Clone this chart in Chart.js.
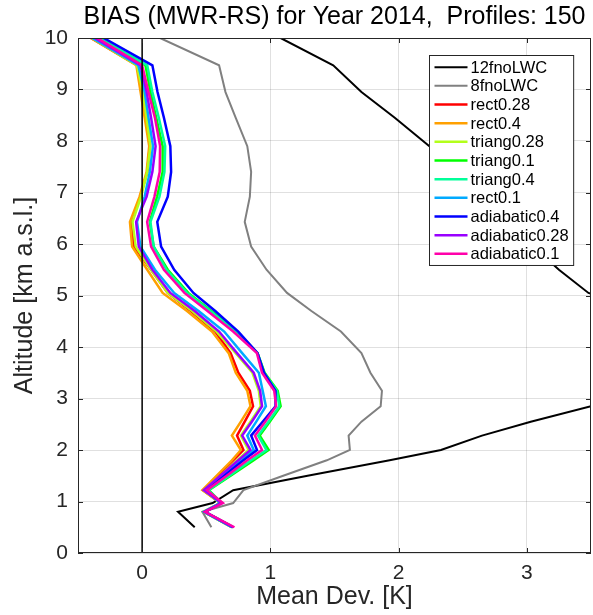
<!DOCTYPE html>
<html>
<head>
<meta charset="utf-8">
<script src="https://cdn.jsdelivr.net/npm/chart.js@4.4.1/dist/chart.umd.min.js"></script>
<style>
  body { margin: 0; background: #fff; }
</style>
</head>
<body>
<canvas id="bias-chart" width="593" height="615"></canvas>
<script>
// altitude levels [km a.s.l.]
const altitude = [0.5, 0.8, 0.97, 1.22, 1.5, 1.8, 2.0, 2.28, 2.55, 2.85, 3.15, 3.5, 3.88, 4.3, 4.7, 5.05, 5.5, 5.95, 6.43, 6.92, 7.4, 7.9, 8.45, 8.95, 9.47, 10];

// mean deviation [K] per retrieval
const fnoLWC12 = [0.41, 0.28, 0.55, 0.71, 1.29, 1.93, 2.33, 2.65, 3.03, 3.5, 3.9, 4.2, 4.4, 4.4, 4.0, 3.48, 3.25, 3.05, 2.85, 2.65, 2.45, 2.24, 1.97, 1.71, 1.49, 1.08];
const fnoLWC8 = [0.54, 0.47, 0.71, 0.79, 1.10, 1.44, 1.62, 1.61, 1.71, 1.86, 1.87, 1.78, 1.71, 1.55, 1.32, 1.13, 0.97, 0.85, 0.80, 0.84, 0.85, 0.82, 0.73, 0.65, 0.60, 0.14];
const rect028 = [0.70, 0.48, 0.61, 0.475, 0.59, 0.71, 0.79, 0.74, 0.80, 0.865, 0.84, 0.75, 0.69, 0.57, 0.38, 0.20, 0.07, -0.065, -0.085, -0.015, 0.04, 0.06, 0.03, 0.0, -0.04, -0.40];
const rect04 = [0.70, 0.48, 0.61, 0.47, 0.58, 0.70, 0.77, 0.70, 0.77, 0.845, 0.82, 0.73, 0.675, 0.545, 0.35, 0.16, 0.04, -0.078, -0.095, -0.02, 0.035, 0.055, 0.02, -0.012, -0.045, -0.40];
const triang028 = [0.70, 0.48, 0.61, 0.48, 0.61, 0.74, 0.83, 0.77, 0.845, 0.925, 0.91, 0.86, 0.73, 0.58, 0.39, 0.20, 0.07, -0.05, -0.075, -0.008, 0.04, 0.065, 0.035, 0.005, -0.04, -0.39];
const triang01 = [0.71, 0.49, 0.62, 0.52, 0.69, 0.87, 0.987, 0.917, 0.995, 1.08, 1.057, 0.955, 0.90, 0.74, 0.54, 0.36, 0.20, 0.09, 0.06, 0.117, 0.16, 0.16, 0.11, 0.065, 0.026, -0.34];
const triang04 = [0.71, 0.49, 0.62, 0.515, 0.68, 0.85, 0.97, 0.905, 0.985, 1.07, 1.05, 0.95, 0.90, 0.73, 0.53, 0.35, 0.19, 0.09, 0.065, 0.135, 0.174, 0.18, 0.13, 0.08, 0.04, -0.33];
const rect01 = [0.70, 0.48, 0.61, 0.49, 0.63, 0.77, 0.87, 0.82, 0.89, 0.965, 0.94, 0.91, 0.78, 0.64, 0.44, 0.25, 0.10, -0.013, -0.04, 0.02, 0.06, 0.085, 0.05, 0.02, -0.03, -0.39];
const adiabatic04 = [0.71, 0.49, 0.62, 0.50, 0.64, 0.79, 0.896, 0.85, 0.94, 1.04, 1.04, 0.95, 0.90, 0.75, 0.57, 0.40, 0.25, 0.148, 0.118, 0.20, 0.226, 0.22, 0.17, 0.12, 0.08, -0.30];
const adiabatic028 = [0.71, 0.49, 0.62, 0.48, 0.61, 0.75, 0.845, 0.78, 0.855, 0.935, 0.92, 0.87, 0.74, 0.60, 0.41, 0.22, 0.08, -0.026, -0.047, 0.035, 0.08, 0.105, 0.07, 0.035, -0.013, -0.37];
const adiabatic01 = [0.72, 0.49, 0.63, 0.505, 0.66, 0.82, 0.935, 0.88, 0.96, 1.045, 1.03, 0.935, 0.895, 0.71, 0.51, 0.33, 0.17, 0.07, 0.039, 0.096, 0.137, 0.14, 0.10, 0.05, 0.0, -0.35];

const seriesNames = ['12fnoLWC', '8fnoLWC', 'rect0.28', 'rect0.4', 'triang0.28', 'triang0.1', 'triang0.4', 'rect0.1', 'adiabatic0.4', 'adiabatic0.28', 'adiabatic0.1'];
const seriesValues = [fnoLWC12, fnoLWC8, rect028, rect04, triang028, triang01, triang04, rect01, adiabatic04, adiabatic028, adiabatic01];
const seriesColors = ['#000000', '#808080', '#ff0000', '#ffa000', '#b3ff1a', '#00ff00', '#00ff99', '#00aaff', '#0000ff', '#9900ff', '#ff00aa'];

const zeroLine = [{x: 0, y: 0}, {x: 0, y: 10}];
const xTicks = [0, 1, 2, 3];
const yTicks = [0, 1, 2, 3, 4, 5, 6, 7, 8, 9, 10];

const FONT = '"Liberation Sans", Arial, Helvetica, sans-serif';

const datasets = seriesNames.map(function(name, i) {
  return {
    label: name,
    data: altitude.map(function(a, k) { return {x: seriesValues[i][k], y: a}; }),
    borderColor: seriesColors[i],
    borderWidth: i < 2 ? 2 : 2.5,
    showLine: true,
    pointRadius: 0,
    tension: 0,
    order: 20 - i
  };
});
datasets.push({
  label: 'zero',
  data: zeroLine,
  borderColor: '#000000',
  borderWidth: 1.5,
  showLine: true,
  pointRadius: 0,
  order: 0
});

// axes box with inward ticks, like matlab
const frame = {
  id: 'frame',
  afterDatasetsDraw(chart) {
    const {ctx, chartArea: a, scales} = chart;
    ctx.save();
    ctx.strokeStyle = '#262626';
    ctx.lineWidth = 1;
    ctx.strokeRect(a.left + 0.5, a.top + 0.5, a.right - a.left - 1, a.bottom - a.top - 1);
    ctx.beginPath();
    xTicks.forEach(function(v) {
      const px = Math.round(scales.x.getPixelForValue(v)) + 0.5;
      ctx.moveTo(px, a.bottom); ctx.lineTo(px, a.bottom - 5);
      ctx.moveTo(px, a.top); ctx.lineTo(px, a.top + 5);
    });
    yTicks.forEach(function(v) {
      const py = Math.round(scales.y.getPixelForValue(v)) + 0.5;
      ctx.moveTo(a.left, py); ctx.lineTo(a.left + 5, py);
      ctx.moveTo(a.right, py); ctx.lineTo(a.right - 5, py);
    });
    ctx.stroke();
    ctx.restore();
  }
};

const legendBox = {
  id: 'legendBox',
  afterDraw(chart) {
    const {ctx, chartArea} = chart;
    ctx.save();
    ctx.font = '16.5px ' + FONT;
    const rowH = 18.67;
    const textW = Math.max.apply(null, seriesNames.map(function(n) { return ctx.measureText(n).width; }));
    const w = 41 + textW + 5;
    const h = rowH * seriesNames.length + 4.6;
    const x0 = Math.round(chartArea.right - 18 - w) + 0.5;
    const y0 = Math.round(chartArea.top + 17) + 0.5;
    ctx.fillStyle = '#ffffff';
    ctx.fillRect(x0, y0, w, h);
    ctx.strokeStyle = '#262626';
    ctx.lineWidth = 1;
    ctx.strokeRect(x0, y0, w, h);
    ctx.textBaseline = 'middle';
    ctx.textAlign = 'left';
    seriesNames.forEach(function(name, i) {
      const yy = y0 + 2.3 + rowH * (i + 0.5);
      ctx.strokeStyle = seriesColors[i];
      ctx.lineWidth = i < 2 ? 2 : 2.5;
      ctx.beginPath();
      ctx.moveTo(x0 + 5, yy);
      ctx.lineTo(x0 + 38, yy);
      ctx.stroke();
      ctx.fillStyle = '#000000';
      ctx.fillText(name, x0 + 41, yy + 1);
    });
    ctx.restore();
  }
};

new Chart(document.getElementById('bias-chart'), {
  type: 'scatter',
  data: { datasets: datasets },
  options: {
    responsive: false,
    animation: false,
    layout: { padding: { right: 2 } },
    plugins: {
      legend: { display: false },
      tooltip: { enabled: false },
      title: {
        display: true,
        fullSize: false,
        text: 'BIAS (MWR-RS) for Year 2014,  Profiles: 150',
        color: '#000000',
        font: { family: FONT, size: 25, weight: 'normal', lineHeight: 1.2 },
        padding: { top: 2, bottom: 6 }
      }
    },
    scales: {
      x: {
        type: 'linear',
        min: -0.5,
        max: 3.5,
        afterBuildTicks: function(scale) {
          scale.ticks = xTicks.map(function(v) { return {value: v}; });
        },
        afterFit: function(scale) { scale.height = 62; },
        grid: { color: 'rgba(38,38,38,0.14)', drawTicks: false },
        border: { display: false },
        ticks: { color: '#262626', padding: 8, font: { family: FONT, size: 21 }, maxRotation: 0 },
        title: {
          display: true,
          text: 'Mean Dev. [K]',
          color: '#262626',
          font: { family: FONT, size: 25, lineHeight: 1.2 },
          padding: { top: 0, bottom: 3 }
        }
      },
      y: {
        type: 'linear',
        min: 0,
        max: 10,
        afterBuildTicks: function(scale) {
          scale.ticks = yTicks.map(function(v) { return {value: v}; });
        },
        afterFit: function(scale) { scale.width = 78; },
        grid: { color: 'rgba(38,38,38,0.14)', drawTicks: false },
        border: { display: false },
        ticks: { color: '#262626', padding: 10, font: { family: FONT, size: 21 } },
        title: {
          display: true,
          text: 'Altitude [km a.s.l.]',
          color: '#262626',
          font: { family: FONT, size: 25, lineHeight: 1.2 },
          padding: { top: 10, bottom: 0 }
        }
      }
    }
  },
  plugins: [frame, legendBox]
});
</script>
</body>
</html>
